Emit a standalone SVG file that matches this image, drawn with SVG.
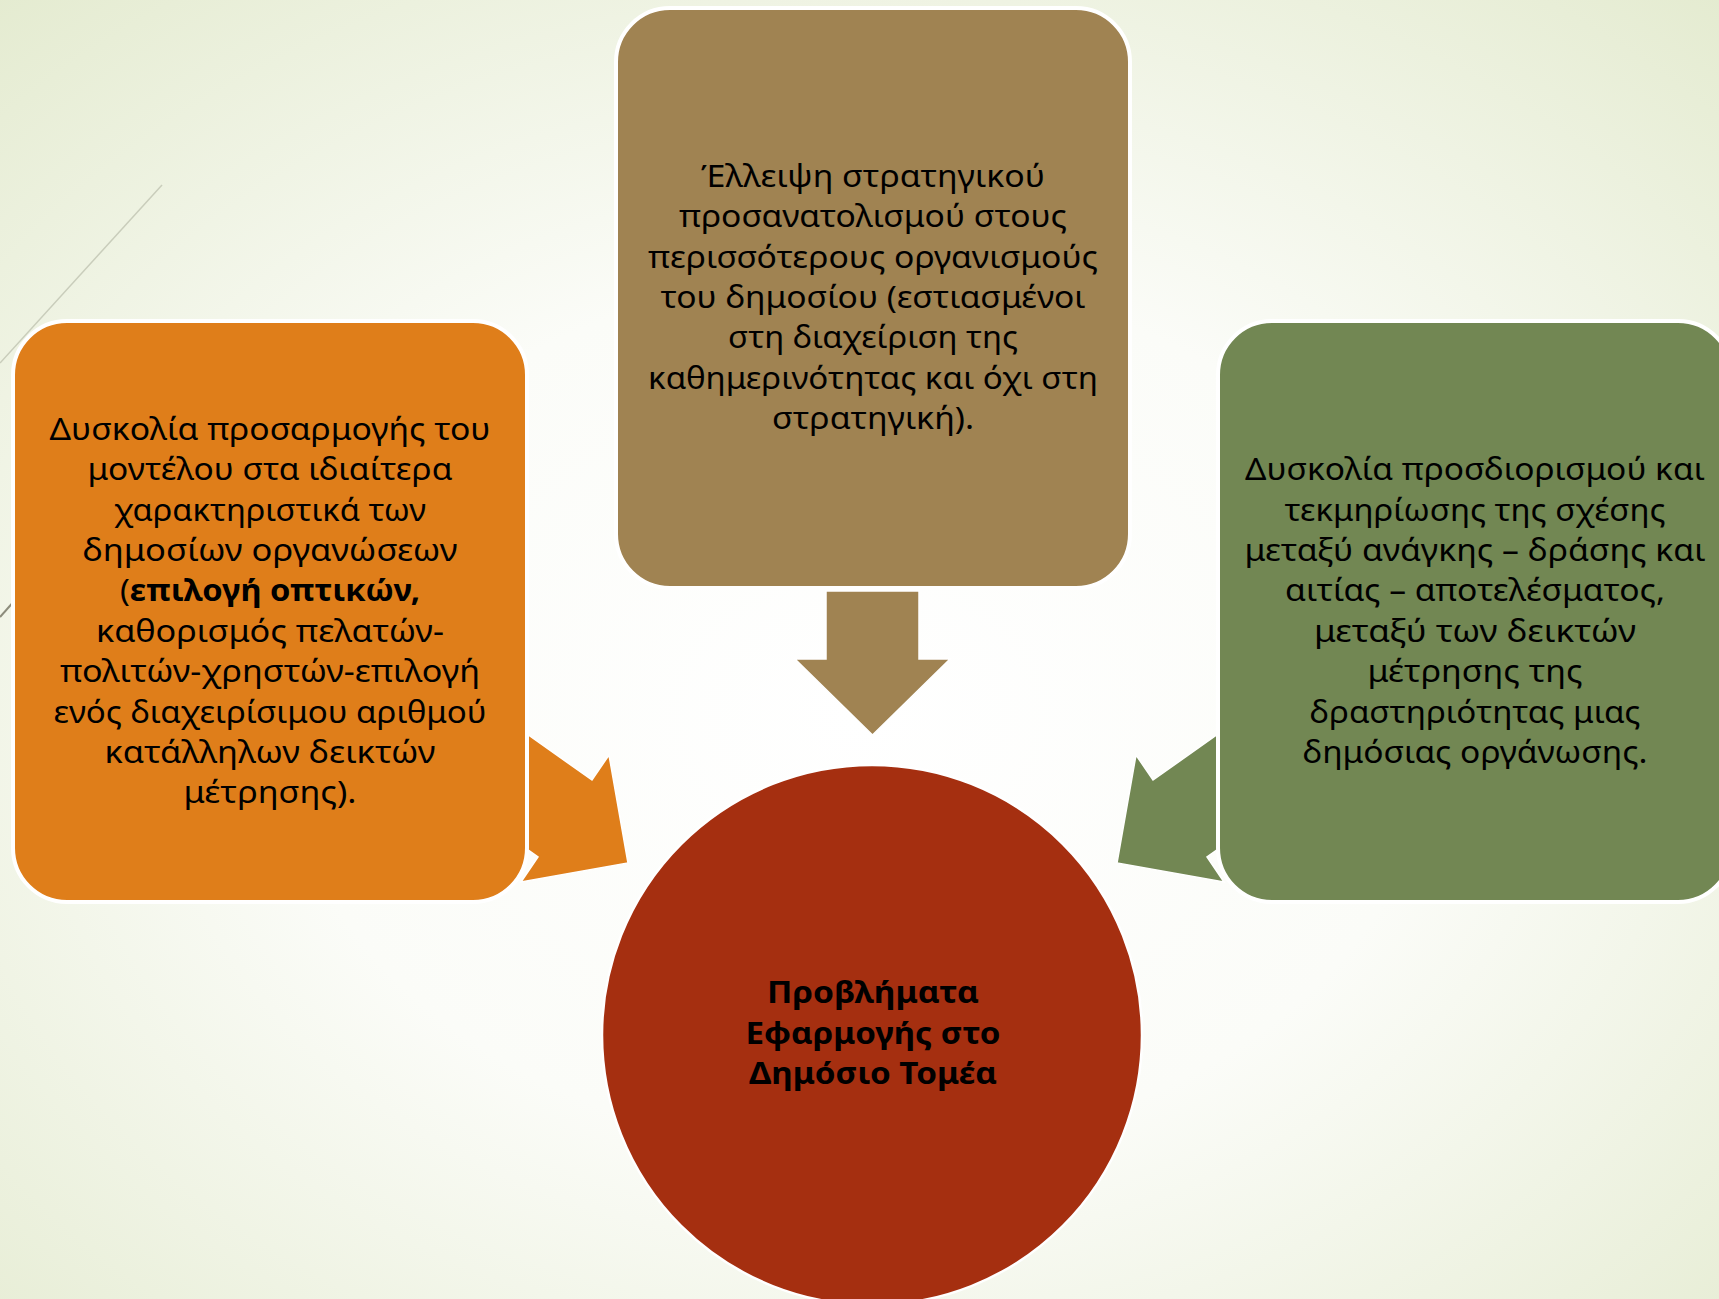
<svg xmlns="http://www.w3.org/2000/svg" width="1719" height="1299" viewBox="0 0 1719 1299">
<defs>
<radialGradient id="bg" cx="50%" cy="55%" r="75%">
<stop offset="0" stop-color="#FFFFFF"/>
<stop offset="0.45" stop-color="#FBFCF8"/>
<stop offset="1" stop-color="#E4EBD0"/>
</radialGradient>
<style>
.t{font-family:"Noto Sans","Open Sans","DejaVu Sans",sans-serif;font-size:31px;fill:#000;text-anchor:middle}
.b{font-weight:bold}
.box{stroke:#FFFFFF;stroke-width:4}
.arr{stroke:#FFFFFF;stroke-width:1.5;stroke-linejoin:miter}
</style>
</defs>
<rect x="0" y="0" width="1719" height="1299" fill="url(#bg)"/>
<line x1="162" y1="185" x2="0" y2="363" stroke="#C9CDBB" stroke-width="1.5"/>
<line x1="0" y1="617" x2="16" y2="599" stroke="#8C8C7C" stroke-width="2"/>

<g id="connectors">
<polygon class="arr" fill="#DF7E1A" points="510,722 592,780 609,755 628,863 521,882 538,857 456,799"/>
<polygon class="arr" fill="#728753" points="1235,722 1153,780 1136,755 1117,863 1224,882 1207,857 1289,799"/>
<polygon class="arr" fill="#A08352" points="826,591 919,591 919,659 950,659 872.5,735 795,659 826,659"/>
</g>

<g id="node-left">
<rect class="box" x="13" y="321" width="514" height="581" rx="54" fill="#DF7E1A"/>
<text class="t" x="270" y="439.5" textLength="441" lengthAdjust="spacingAndGlyphs">Δυσκολία προσαρμογής του</text>
<text class="t" x="270" y="480" textLength="365" lengthAdjust="spacingAndGlyphs">μοντέλου στα ιδιαίτερα</text>
<text class="t" x="270" y="520.5" textLength="312" lengthAdjust="spacingAndGlyphs">χαρακτηριστικά των</text>
<text class="t" x="270" y="561" textLength="375" lengthAdjust="spacingAndGlyphs">δημοσίων οργανώσεων</text>
<text class="t" x="270" y="601" textLength="300" lengthAdjust="spacingAndGlyphs">(<tspan class="b">επιλογή οπτικών,</tspan></text>
<text class="t" x="270" y="641.5" textLength="348" lengthAdjust="spacingAndGlyphs">καθορισμός πελατών-</text>
<text class="t" x="270" y="682" textLength="420" lengthAdjust="spacingAndGlyphs">πολιτών-χρηστών-επιλογή</text>
<text class="t" x="270" y="722.5" textLength="433" lengthAdjust="spacingAndGlyphs">ενός διαχειρίσιμου αριθμού</text>
<text class="t" x="270" y="763" textLength="331" lengthAdjust="spacingAndGlyphs">κατάλληλων δεικτών</text>
<text class="t" x="270" y="803" textLength="173" lengthAdjust="spacingAndGlyphs">μέτρησης).</text>
</g>

<g id="node-top">
<rect class="box" x="616" y="8" width="514" height="580" rx="54" fill="#A08352"/>
<text class="t" x="873" y="186.5" textLength="344" lengthAdjust="spacingAndGlyphs">Έλλειψη στρατηγικού</text>
<text class="t" x="873" y="227" textLength="388" lengthAdjust="spacingAndGlyphs">προσανατολισμού στους</text>
<text class="t" x="873" y="267.5" textLength="450" lengthAdjust="spacingAndGlyphs">περισσότερους οργανισμούς</text>
<text class="t" x="873" y="308" textLength="425" lengthAdjust="spacingAndGlyphs">του δημοσίου (εστιασμένοι</text>
<text class="t" x="873" y="348" textLength="290" lengthAdjust="spacingAndGlyphs">στη διαχείριση της</text>
<text class="t" x="873" y="388.5" textLength="450" lengthAdjust="spacingAndGlyphs">καθημερινότητας και όχι στη</text>
<text class="t" x="873" y="429" textLength="202" lengthAdjust="spacingAndGlyphs">στρατηγική).</text>
</g>

<g id="node-right">
<rect class="box" x="1218" y="321" width="514" height="581" rx="54" fill="#728753"/>
<text class="t" x="1475" y="480" textLength="460" lengthAdjust="spacingAndGlyphs">Δυσκολία προσδιορισμού και</text>
<text class="t" x="1475" y="520.5" textLength="381" lengthAdjust="spacingAndGlyphs">τεκμηρίωσης της σχέσης</text>
<text class="t" x="1475" y="561" textLength="461" lengthAdjust="spacingAndGlyphs">μεταξύ ανάγκης – δράσης και</text>
<text class="t" x="1475" y="601" textLength="380" lengthAdjust="spacingAndGlyphs">αιτίας – αποτελέσματος,</text>
<text class="t" x="1475" y="641.5" textLength="322" lengthAdjust="spacingAndGlyphs">μεταξύ των δεικτών</text>
<text class="t" x="1475" y="682" textLength="215" lengthAdjust="spacingAndGlyphs">μέτρησης της</text>
<text class="t" x="1475" y="722.5" textLength="331" lengthAdjust="spacingAndGlyphs">δραστηριότητας μιας</text>
<text class="t" x="1475" y="763" textLength="345" lengthAdjust="spacingAndGlyphs">δημόσιας οργάνωσης.</text>
</g>

<g id="node-center">
<circle cx="872" cy="1035" r="270" fill="#A52F10" stroke="#FFFFFF" stroke-width="2.5"/>
<text class="t b" x="873" y="1003" textLength="212" lengthAdjust="spacingAndGlyphs">Προβλήματα</text>
<text class="t b" x="873" y="1043.5" textLength="255" lengthAdjust="spacingAndGlyphs">Εφαρμογής στο</text>
<text class="t b" x="873" y="1084" textLength="248" lengthAdjust="spacingAndGlyphs">Δημόσιο Τομέα</text>
</g>
</svg>
